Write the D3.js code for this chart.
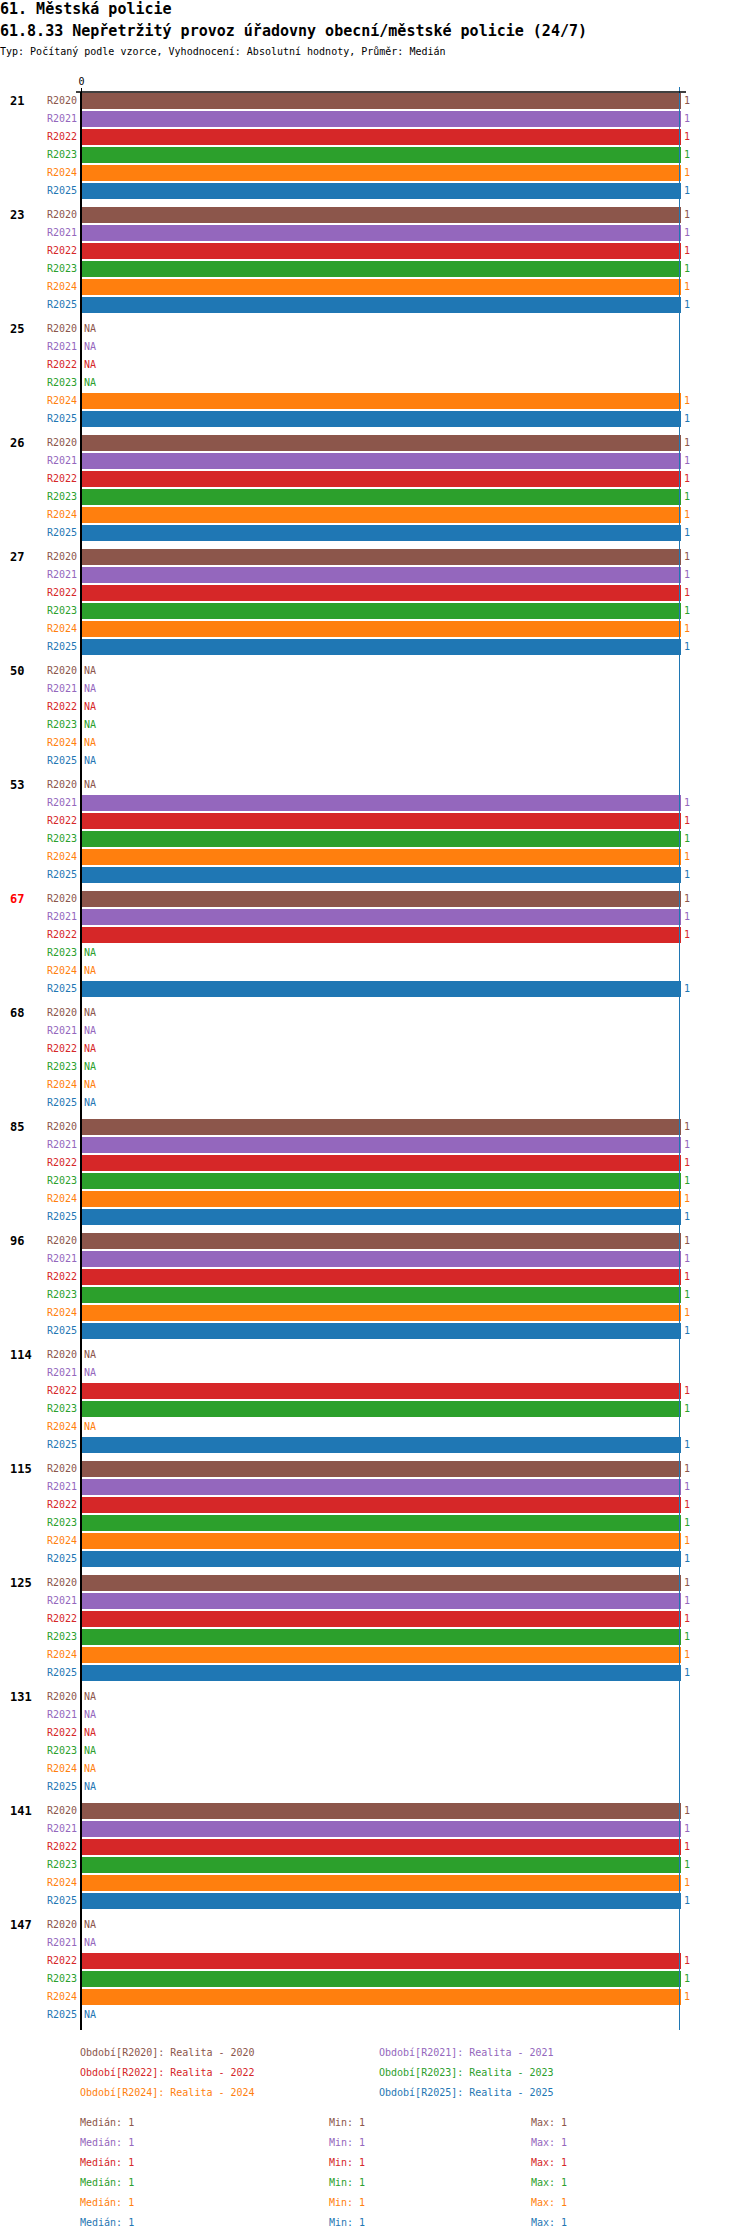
<!DOCTYPE html>
<html>
<head>
<meta charset="utf-8">
<script src="https://cdn.jsdelivr.net/npm/d3@7"></script>
<style>
  body { margin: 0; background: #fff; }
  text { font-family: "DejaVu Sans Mono", monospace; }
</style>
</head>
<body>
<svg id="chart" width="750" height="2240"></svg>
<script>
const title = "61. Městská policie";
const subtitle = "61.8.33 Nepřetržitý provoz úřadovny obecní/městské policie (24/7)";
const typeLine = "Typ: Počítaný podle vzorce, Vyhodnocení: Absolutní hodnoty, Průměr: Medián";

const groups = ["21","23","25","26","27","50","53","67","68","85","96","114","115","125","131","141","147"];
const highlighted = ["67"];
const seriesNames = ["R2020","R2021","R2022","R2023","R2024","R2025"];
const seriesColors = ["#8c564b","#9467bd","#d62728","#2ca02c","#ff7f0e","#1f77b4"];
const seriesLegend = ["Realita - 2020","Realita - 2021","Realita - 2022","Realita - 2023","Realita - 2024","Realita - 2025"];

const R2020 = [1,1,null,1,1,null,null,1,null,1,1,null,1,1,null,1,null];
const R2021 = [1,1,null,1,1,null,1,1,null,1,1,null,1,1,null,1,null];
const R2022 = [1,1,null,1,1,null,1,1,null,1,1,1,1,1,null,1,1];
const R2023 = [1,1,null,1,1,null,1,null,null,1,1,1,1,1,null,1,1];
const R2024 = [1,1,1,1,1,null,1,null,null,1,1,null,1,1,null,1,1];
const R2025 = [1,1,1,1,1,null,1,1,null,1,1,1,1,1,null,1,null];
const seriesValues = [R2020,R2021,R2022,R2023,R2024,R2025];

const statMedian = [1,1,1,1,1,1];
const statMin = [1,1,1,1,1,1];
const statMax = [1,1,1,1,1,1];
const xTicks = [0];

const svg = d3.select("#chart");

// Titles
svg.append("text").attr("x",0).attr("y",14).attr("font-size",15).attr("font-weight","bold").text(title);
svg.append("text").attr("x",0).attr("y",36).attr("font-size",15).attr("font-weight","bold").text(subtitle);
svg.append("text").attr("x",0).attr("y",55).attr("font-size",10).text(typeLine);

// Scales
const x = d3.scaleLinear().domain([0,1]).range([81,681]);
const yGroup = d3.scaleBand().domain(groups).range([92, 92 + groups.length*114]).padding(0);
const ySeries = d3.scaleBand().domain(seriesNames).range([0, 108]).paddingInner(0.111).paddingOuter(0.0555);

const yTop = yGroup.range()[0];
const yBottom = yGroup.range()[1];

// Data rows
const rows = [];
groups.forEach((g, gi) => {
  seriesNames.forEach((s, si) => {
    rows.push({group: g, series: s, si, value: seriesValues[si][gi]});
  });
});

const gRows = svg.append("g");
const rowSel = gRows.selectAll("g.row").data(rows).enter().append("g")
  .attr("transform", d => `translate(0,${yGroup(d.group) + ySeries(d.series)})`);

const bw = ySeries.bandwidth();

rowSel.filter(d => d.value != null).append("rect")
  .attr("x", x(0) + 1)
  .attr("y", 0)
  .attr("width", d => x(d.value) - x(0) - 1)
  .attr("height", bw)
  .attr("fill", d => seriesColors[d.si]);

rowSel.append("text")
  .attr("x", 77).attr("y", bw/2)
  .attr("text-anchor","end").attr("dominant-baseline","central")
  .attr("font-size",10)
  .attr("fill", d => seriesColors[d.si])
  .text(d => d.series);

rowSel.append("text")
  .attr("x", d => d.value != null ? x(d.value) + 3 : x(0) + 3)
  .attr("y", bw/2)
  .attr("dominant-baseline","central")
  .attr("font-size",10)
  .attr("fill", d => seriesColors[d.si])
  .text(d => d.value != null ? d3.format("d")(d.value) : "NA");

// Group labels
svg.append("g").selectAll("text").data(groups).enter().append("text")
  .attr("x", 10)
  .attr("y", d => yGroup(d) + ySeries(seriesNames[0]) + bw/2)
  .attr("dominant-baseline","central")
  .attr("font-size",12).attr("font-weight","bold")
  .attr("fill", d => highlighted.includes(d) ? "#ff0000" : "#000")
  .text(d => d);

// Reference line at max
svg.append("line")
  .attr("x1", x(1) - 1.5).attr("x2", x(1) - 1.5)
  .attr("y1", yTop - 5).attr("y2", yBottom)
  .attr("stroke", "#1f77b4").attr("stroke-width", 1);

// Top axis
const axisG = svg.append("g").attr("transform", `translate(0,${yTop})`);
axisG.append("line").attr("x1", x(0) - 5).attr("x2", x(1) + 5).attr("y1", 0).attr("y2", 0)
  .attr("stroke", "#000").attr("stroke-width", 1.5);
const ax = d3.axisTop(x).tickValues(xTicks).tickSize(4).tickSizeOuter(0).tickFormat(d3.format("d"));
const axCall = svg.append("g").attr("transform", `translate(0,${yTop})`).call(ax);
axCall.select(".domain").remove();
axCall.selectAll("text").attr("font-family", "DejaVu Sans Mono, monospace").attr("font-size", 10).attr("fill","#000");
axCall.selectAll("line").attr("stroke","#000");

// Left vertical axis line
svg.append("line").attr("x1", x(0)).attr("x2", x(0)).attr("y1", yTop).attr("y2", yBottom)
  .attr("stroke", "#000").attr("stroke-width", 2);

// Legend
const legendY0 = yBottom + 22;
const legendCols = [80, 379];
const lg = svg.append("g");
seriesNames.forEach((s, i) => {
  lg.append("text")
    .attr("x", legendCols[i % 2])
    .attr("y", legendY0 + Math.floor(i/2)*20)
    .attr("dominant-baseline","central")
    .attr("font-size", 10)
    .attr("fill", seriesColors[i])
    .text(`Období[${s}]: ${seriesLegend[i]}`);
});

// Stats
const statY0 = legendY0 + 70;
const statCols = [80, 329, 531];
seriesNames.forEach((s, i) => {
  const yy = statY0 + i*20;
  [["Medián", statMedian[i]], ["Min", statMin[i]], ["Max", statMax[i]]].forEach((p, j) => {
    lg.append("text")
      .attr("x", statCols[j]).attr("y", yy)
      .attr("dominant-baseline","central")
      .attr("font-size", 10)
      .attr("fill", seriesColors[i])
      .text(`${p[0]}: ${p[1]}`);
  });
});
</script>
</body>
</html>
